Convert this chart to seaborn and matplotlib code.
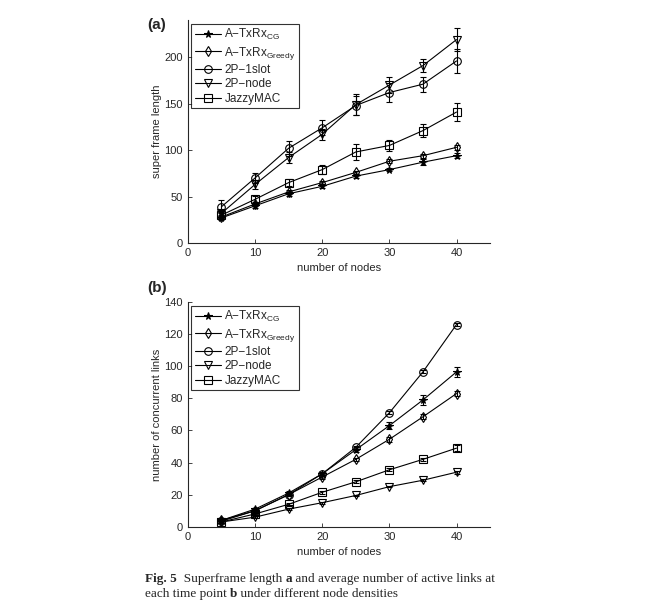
import numpy as np
import matplotlib
matplotlib.use("Agg")
import matplotlib.pyplot as plt
import seaborn as sns

# estilo tipo MATLAB
sns.set_style("ticks")
plt.rcParams['font.family'] = ['Liberation Sans', 'DejaVu Sans']
plt.rcParams['mathtext.fontset'] = 'custom'
plt.rcParams['mathtext.rm'] = 'Liberation Sans'
plt.rcParams['mathtext.it'] = 'Liberation Sans:italic'
plt.rcParams['xtick.direction'] = 'in'
plt.rcParams['ytick.direction'] = 'in'

# DATOS
nodes = [5, 10, 15, 20, 25, 30, 35, 40]
labels = ["A\u2212TxRx$_{\\mathrm{CG}}$", "A\u2212TxRx$_{\\mathrm{Greedy}}$",
          "2P\u22121slot", "2P\u2212node", "JazzyMAC"]
markers = ['*', 'd', 'o', 'v', 's']

# (a) super frame length
sf_cg = [27, 40, 53, 61, 72, 79, 87, 94]
sf_greedy = [28, 42, 55, 65, 76, 88, 94, 103]
sf_1slot = [39, 70, 102, 124, 148, 162, 171, 196]
sf_node = [32, 63, 92, 117, 149, 170, 191, 219]
sf_jazzy = [30, 47, 65, 79, 98, 105, 121, 141]
sf_cg_err = [2, 2, 2, 2, 2, 2, 3, 3]
sf_greedy_err = [2, 2, 2, 2, 2, 2, 2, 3]
sf_1slot_err = [7, 5, 8, 8, 10, 10, 8, 13]
sf_node_err = [4, 5, 6, 6, 11, 9, 7, 12]
sf_jazzy_err = [3, 4, 4, 5, 9, 6, 7, 10]

# (b) number of concurrent links
cl_cg = [4, 11, 21, 33, 48, 63, 79, 96.5]
cl_greedy = [4, 10, 20, 31, 42, 54.5, 68.5, 83]
cl_1slot = [3.5, 10, 20, 33, 49.5, 71, 96.5, 126]
cl_node = [3, 6, 11, 15, 19.5, 25, 29, 34]
cl_jazzy = [3, 8, 14, 21.5, 28, 35.5, 42, 49]
cl_cg_err = [0.5, 1, 1, 1, 1.5, 2, 3, 3]
cl_greedy_err = [0.5, 0.5, 1, 1, 1, 1.5, 1.5, 1.5]
cl_1slot_err = [0.5, 0.5, 0.5, 0.5, 1, 1, 1, 1]
cl_node_err = [0.5, 0.5, 0.5, 0.5, 0.5, 0.5, 0.5, 1]
cl_jazzy_err = [0.5, 0.5, 1, 1, 1, 1, 1, 2]

panel_a = [(sf_cg, sf_cg_err), (sf_greedy, sf_greedy_err), (sf_1slot, sf_1slot_err),
           (sf_node, sf_node_err), (sf_jazzy, sf_jazzy_err)]
panel_b = [(cl_cg, cl_cg_err), (cl_greedy, cl_greedy_err), (cl_1slot, cl_1slot_err),
           (cl_node, cl_node_err), (cl_jazzy, cl_jazzy_err)]

fig = plt.figure(figsize=(6.5, 6.09), dpi=100)
ax_a = fig.add_axes([0.289, 0.601, 0.465, 0.366])
ax_b = fig.add_axes([0.289, 0.135, 0.465, 0.369])


def dibujar(ax, series, ymax, yticks, ylabel):
    for (vals, err), lab, mk in zip(series, labels, markers):
        filled = mk == '*'
        sns.lineplot(x=nodes, y=vals, ax=ax, color='k', marker=mk, markersize=5.5,
                     markerfacecolor='k' if filled else 'none', markeredgecolor='k',
                     markeredgewidth=0.8, linewidth=0.8, label=lab)
        ax.errorbar(nodes, vals, yerr=err, fmt='none', ecolor='k', elinewidth=0.8,
                    capsize=2, capthick=0.8, label='_nolegend_')
    ax.set_xlim(0, 45)
    ax.set_ylim(0, ymax)
    ax.set_xticks([0, 10, 20, 30, 40])
    ax.set_yticks(yticks)
    ax.tick_params(labelsize=8, length=3, width=0.6)
    for s in ['left', 'bottom']:
        ax.spines[s].set_linewidth(0.8)
    sns.despine(ax=ax)
    ax.set_xlabel('number of nodes', fontsize=8)
    ax.set_ylabel(ylabel, fontsize=8, labelpad=2)
    leg = ax.legend(loc='upper left', fontsize=8.5, frameon=True, fancybox=False,
                    edgecolor='k', borderaxespad=0.3, handlelength=2.2,
                    handletextpad=0.3, labelspacing=0.2, borderpad=0.3)
    leg.get_frame().set_linewidth(0.8)


dibujar(ax_a, panel_a, 240, [0, 50, 100, 150, 200], 'super frame length')
dibujar(ax_b, panel_b, 140, [0, 20, 40, 60, 80, 100, 120, 140], 'number of concurrent links')

fig.text(0.226, 0.959, '(a)', fontsize=11, fontweight='bold', ha='left', va='center')
fig.text(0.226, 0.527, '(b)', fontsize=11, fontweight='bold', ha='left', va='center')

# pie de figura (trozos encadenados para mezclar negrita y normal)
serif = ['Liberation Serif', 'DejaVu Serif']
partes1 = [("Fig. 5", True), ("  Superframe length ", False), ("a", True),
           (" and average number of active links at", False)]
partes2 = [("each time point ", False), ("b", True), (" under different node densities", False)]
for y, partes in [(0.040, partes1), (0.015, partes2)]:
    prev = None
    for txt, bold in partes:
        w = 'bold' if bold else 'normal'
        if prev is None:
            prev = fig.text(0.223, y, txt, fontsize=9.5, family=serif, fontweight=w,
                            ha='left', va='bottom')
        else:
            prev = fig.add_artist(matplotlib.text.Annotation(
                txt, xy=(1, 0), xycoords=prev, fontsize=9.5, family=serif,
                fontweight=w, ha='left', va='bottom'))

fig.savefig('out.png', dpi=100)
